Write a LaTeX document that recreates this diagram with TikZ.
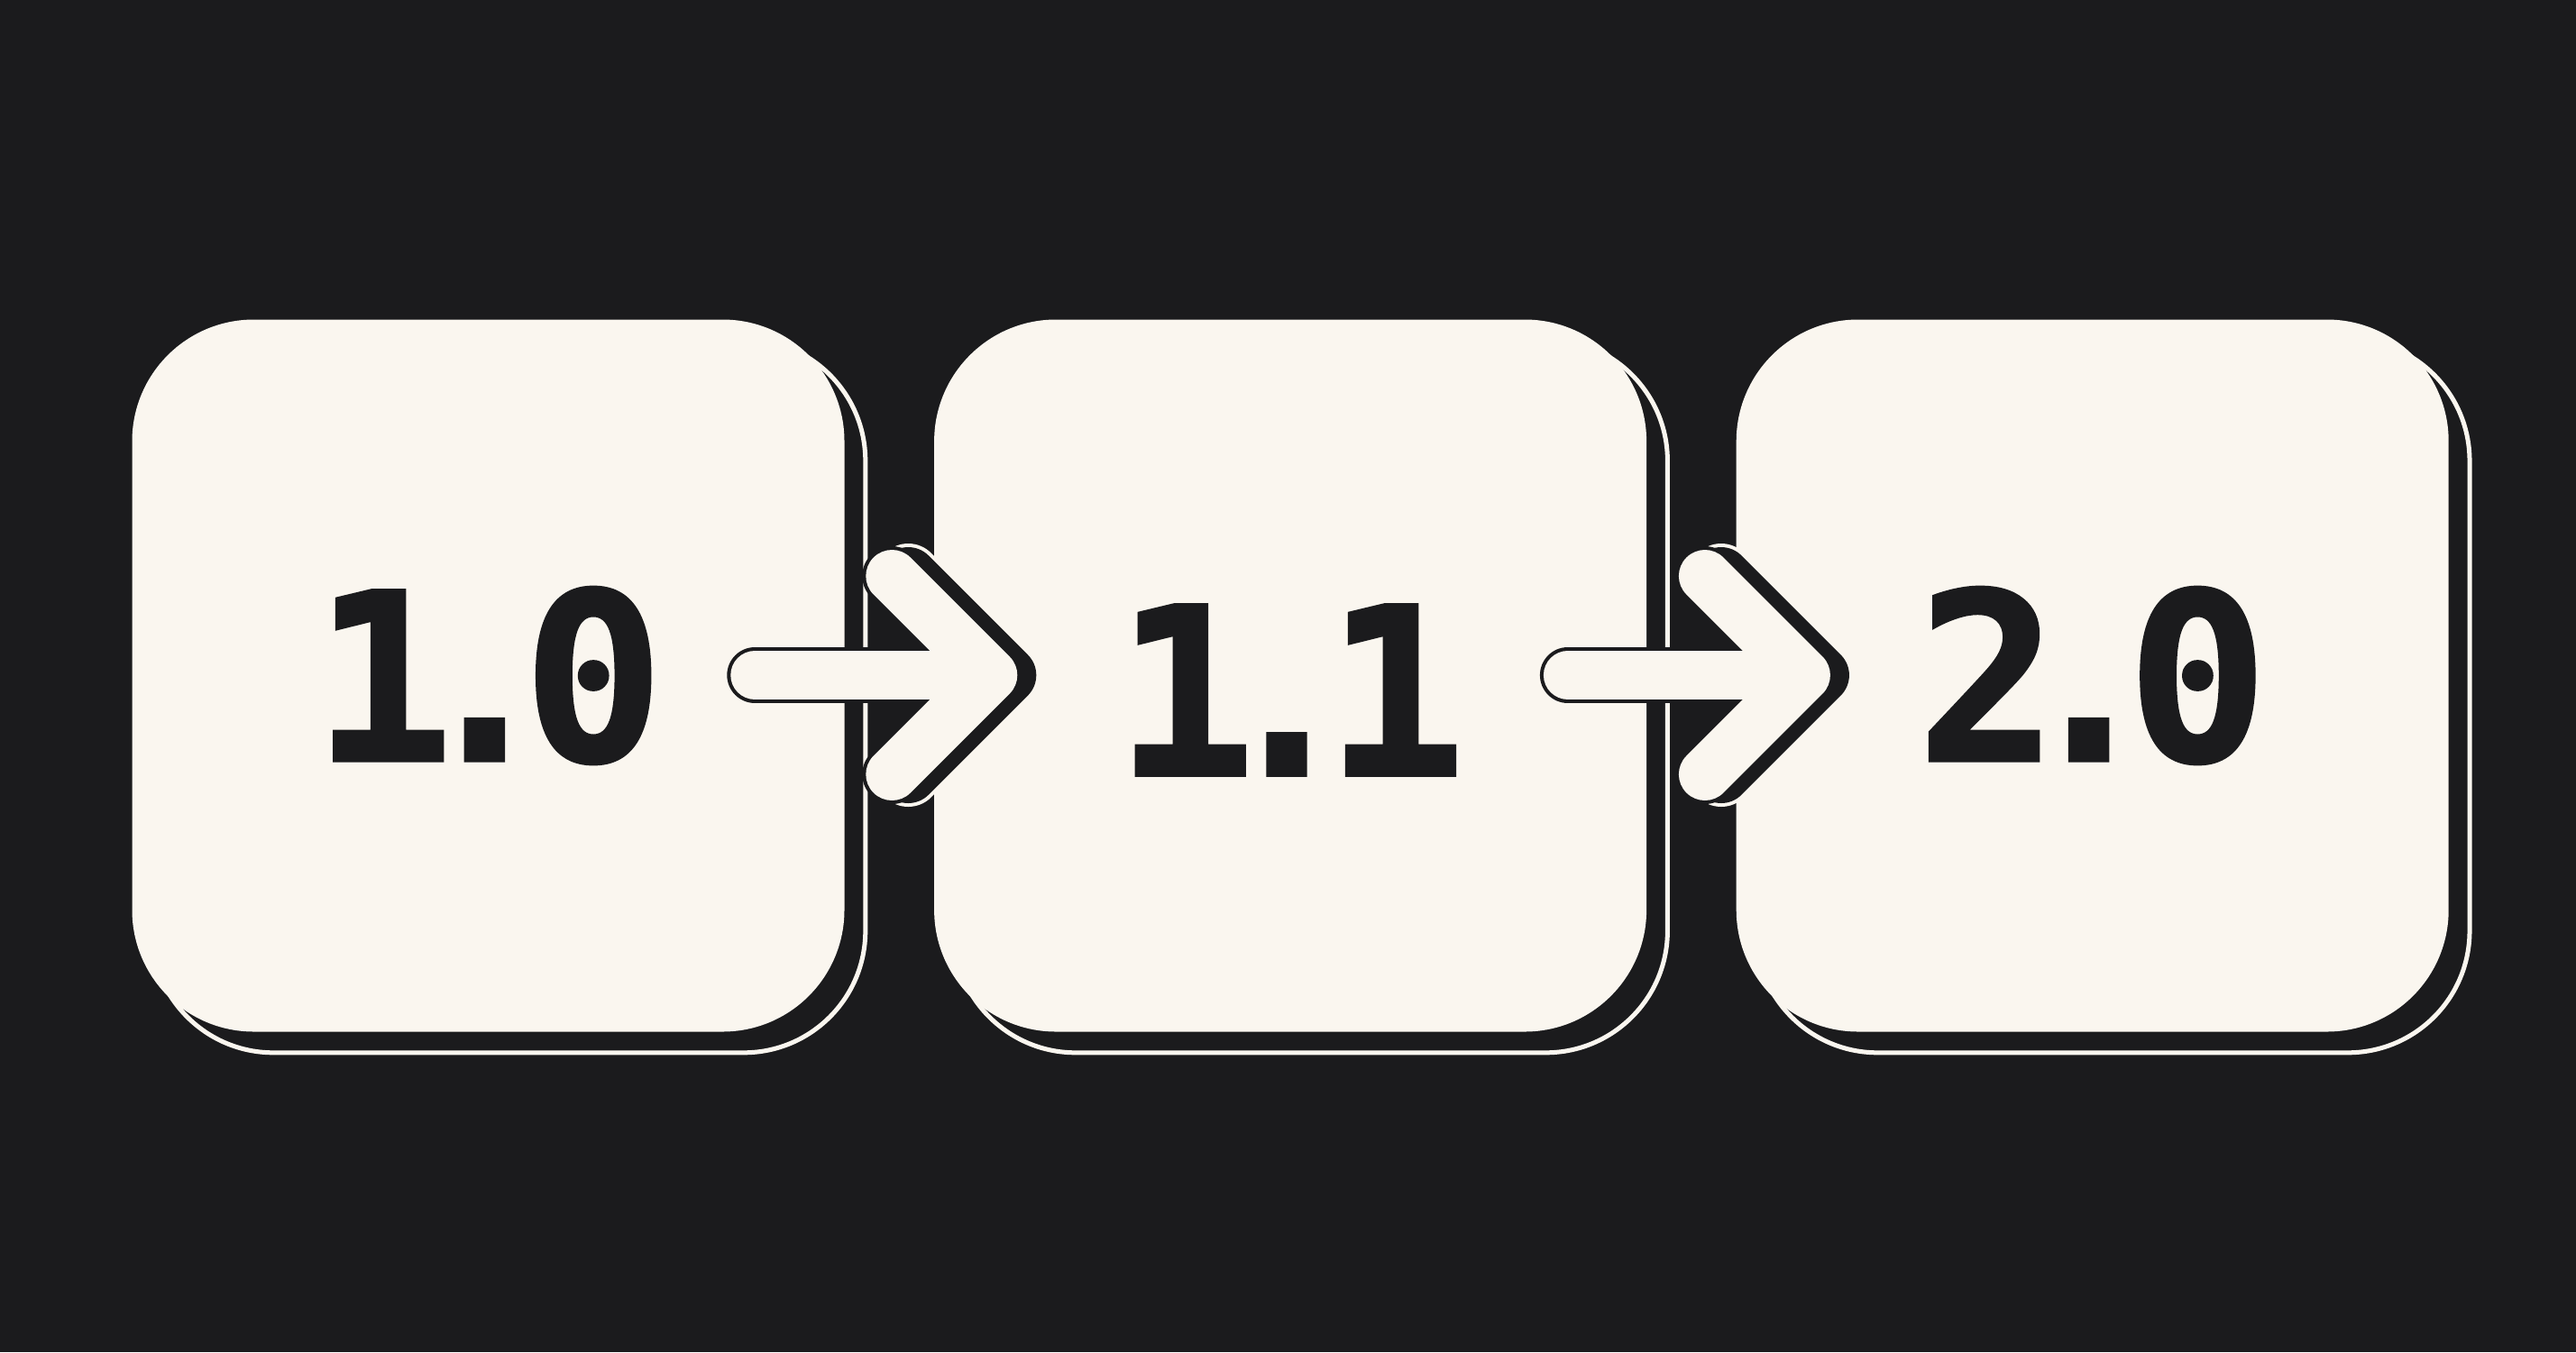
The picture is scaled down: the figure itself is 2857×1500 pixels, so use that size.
\documentclass[tikz,border=0pt]{standalone}
\usepackage{fontspec}
\newfontfamily\verfont{DejaVu Sans Mono Bold}[FakeBold=1.2]
\usetikzlibrary{positioning,calc}
\definecolor{inkdark}{HTML}{1B1B1D}
\definecolor{cream}{HTML}{FAF6EF}
\pgfdeclarelayer{bg}
\pgfdeclarelayer{shade}
\pgfsetlayers{bg,shade,main}
\newcommand\vertag[2]{#1\kern-11pt.\kern-9pt#2}
\begin{document}
\begin{tikzpicture}[
      x=0.25pt, y=-0.25pt,
      verbox/.style={rectangle, fill=cream, minimum size=197.5pt, inner sep=0pt, rounded corners=33.75pt},
      vershadow/.style={fill=inkdark, draw=cream, line width=1.25pt, rounded corners=33.75pt},
      vertext/.style={text=inkdark, inner sep=0pt, font=\verfont\fontsize{65}{70}\selectfont},
      arrowink/.style={draw=inkdark, line cap=round, line join=round},
      arrowfill/.style={draw=cream, line cap=round, line join=round}
    ]
    \useasboundingbox (0,0) rectangle (2857,1500);
    \begin{pgfonlayer}{bg}
      \fill[inkdark] (0,0) rectangle (2857,1500);
    \end{pgfonlayer}
    % version boxes
    \node[verbox] (v10) at (541.5,749.5) {};
    \node[verbox, right=24.5pt of v10] (v11) {};
    \node[verbox, right=24.5pt of v11] (v20) {};
    \begin{pgfonlayer}{shade}
      \foreach \b in {v10,v11,v20}
        \draw[vershadow] ($(\b.north west)+(22.5,22.5)$) rectangle ($(\b.south east)+(22.5,22.5)$);
    \end{pgfonlayer}
    \node[vertext] (t10) at (v10) {\vertag{1}{0}};
    \node[vertext, yshift=-4pt] (t11) at (v11) {\vertag{1}{1}};
    \node[vertext] (t20) at (v20) {\vertag{2}{0}};
    % arrows between boxes
    \foreach \from/\to/\n/\dx in {v10/v11/a1/-6, v11/v20/a2/6} {
      \coordinate (\n-g) at ($(\from.east)!0.5!(\to.west)+(\dx,-0.5)$);
      \coordinate (\n-s) at ($(\n-g)+(-143,0)$);
      \coordinate (\n-v) at ($(\n-g)+(119,0)$);
      \coordinate (\n-t) at ($(\n-v)+(-110,-110)$);
      \coordinate (\n-b) at ($(\n-v)+(-110,110)$);
      \draw[arrowfill, line width=18pt] ([xshift=4.5pt]\n-t) -- ([xshift=4.5pt]\n-v) -- ([xshift=4.5pt]\n-b);
      \draw[arrowink, line width=16pt] ([xshift=4.5pt]\n-t) -- ([xshift=4.5pt]\n-v) -- ([xshift=4.5pt]\n-b);
      \draw[arrowink, line width=16.5pt] (\n-t) -- (\n-v) -- (\n-b);
      \draw[arrowink, line width=15.5pt] (\n-s) -- (\n-v);
      \draw[arrowfill, line width=14.5pt] (\n-t) -- (\n-v) -- (\n-b);
      \draw[arrowfill, line width=13.5pt] (\n-s) -- (\n-v);
    }
\end{tikzpicture}
\end{document}
